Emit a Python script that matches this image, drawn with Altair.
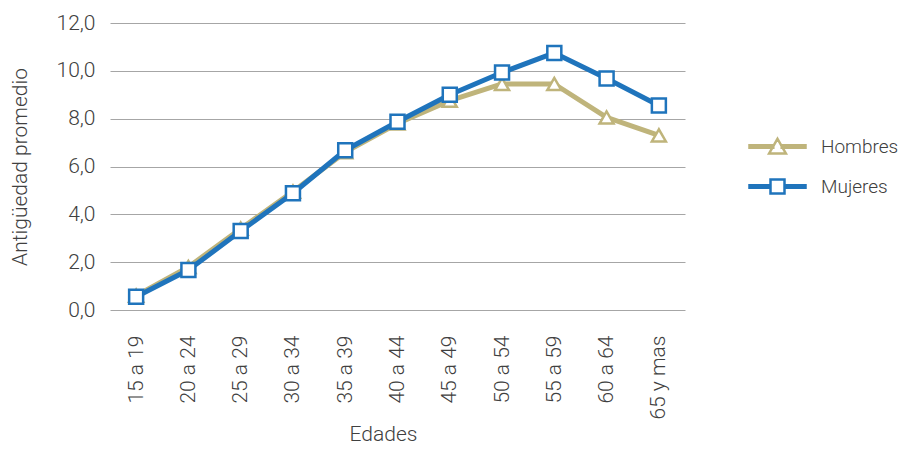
import altair as alt
import pandas as pd

categories = ["15 a 19", "20 a 24", "25 a 29", "30 a 34", "35 a 39", "40 a 44",
              "45 a 49", "50 a 54", "55 a 59", "60 a 64", "65 y mas"]
hombres = [0.6, 1.8, 3.4, 4.95, 6.6, 7.8, 8.75, 9.45, 9.45, 8.05, 7.3]
mujeres = [0.55, 1.67, 3.3, 4.88, 6.68, 7.87, 9.0, 9.93, 10.75, 9.68, 8.55]
series = ["Hombres", "Mujeres"]
colors = ["#BFB47B", "#1F74BC"]
marker_shapes = ["triangle-up", "square"]

rows = []
for c, h, m in zip(categories, hombres, mujeres):
    rows.append({"edad": c, "serie": "Hombres", "valor": h})
    rows.append({"edad": c, "serie": "Mujeres", "valor": m})
df = pd.DataFrame(rows)

FONT = "Roboto"
TXT = "#404040"
FS = 21

x_enc = alt.X("edad:N", sort=categories, scale=alt.Scale(type="point", padding=0.5),
              axis=alt.Axis(title="Edades", labelAngle=-90, labelPadding=25,
                            titlePadding=4, domain=False, ticks=False, grid=False,
                            titleX=273))
y_enc = alt.Y("valor:Q", scale=alt.Scale(domain=[0, 12], nice=False),
              axis=alt.Axis(title="Antigüedad promedio", values=[0, 2, 4, 6, 8, 10, 12],
                            labelExpr="replace(format(datum.value, '.1f'), '.', ',')",
                            domain=False, ticks=False, labelPadding=15, titlePadding=26,
                            grid=True, gridColor="#A6A6A6", gridWidth=1))

base = alt.Chart(df)

layers = []
for s, col, shp in zip(series, colors, marker_shapes):
    sub = base.transform_filter(alt.datum.serie == s)
    layers.append(sub.mark_line(strokeWidth=5, strokeJoin="round", color=col).encode(
        x=x_enc, y=y_enc))
    layers.append(sub.mark_point(filled=True, fill="white", stroke=col, strokeWidth=2.5,
                                 size=196, shape=shp, opacity=1).encode(
        x=x_enc, y=y_enc))

# legend symbols: line segment + marker, in unit coordinates
tri_path = ("M-4,-0.17L-0.6,-0.17L-0.6,0.17L-4,0.17Z"
            "M0.6,-0.17L4,-0.17L4,0.17L0.6,0.17Z"
            "M0,-1.1L1.2,1.0L-1.2,1.0Z")
sq_path = ("M-4,-0.17L-1,-0.17L-1,0.17L-4,0.17Z"
           "M1,-0.17L4,-0.17L4,0.17L1,0.17Z"
           "M-1,-1L1,-1L1,1L-1,1Z")

leg = alt.Legend(title=None, orient="none", legendX=658, legendY=114,
                 symbolSize=196, labelOffset=34, rowPadding=15,
                 labelFontSize=19, labelFont=FONT, labelFontWeight=300,
                 labelColor=TXT, symbolStrokeWidth=2.5, symbolFillColor="white")

legend_layer = base.transform_filter("false").mark_point(
    filled=True, fill="white", strokeWidth=2.5, size=196, opacity=1).encode(
    x=x_enc, y=y_enc,
    stroke=alt.Stroke("serie:N", scale=alt.Scale(domain=series, range=colors), legend=leg),
    shape=alt.Shape("serie:N", scale=alt.Scale(domain=series, range=[tri_path, sq_path]),
                    legend=leg),
)

chart = alt.layer(legend_layer, *layers).properties(
    width=575, height=287,
    autosize=alt.AutoSizeParams(type="none"),
    padding={"left": 102, "top": 15, "right": 220, "bottom": 137},
).configure_view(stroke=None).configure_axis(
    labelFont=FONT, titleFont=FONT, labelFontSize=FS, titleFontSize=FS,
    labelFontWeight=300, titleFontWeight=300, labelColor=TXT, titleColor=TXT,
).configure_legend(labelFont=FONT)

chart.save("out.html", embed_options={"renderer": "svg", "actions": False})
